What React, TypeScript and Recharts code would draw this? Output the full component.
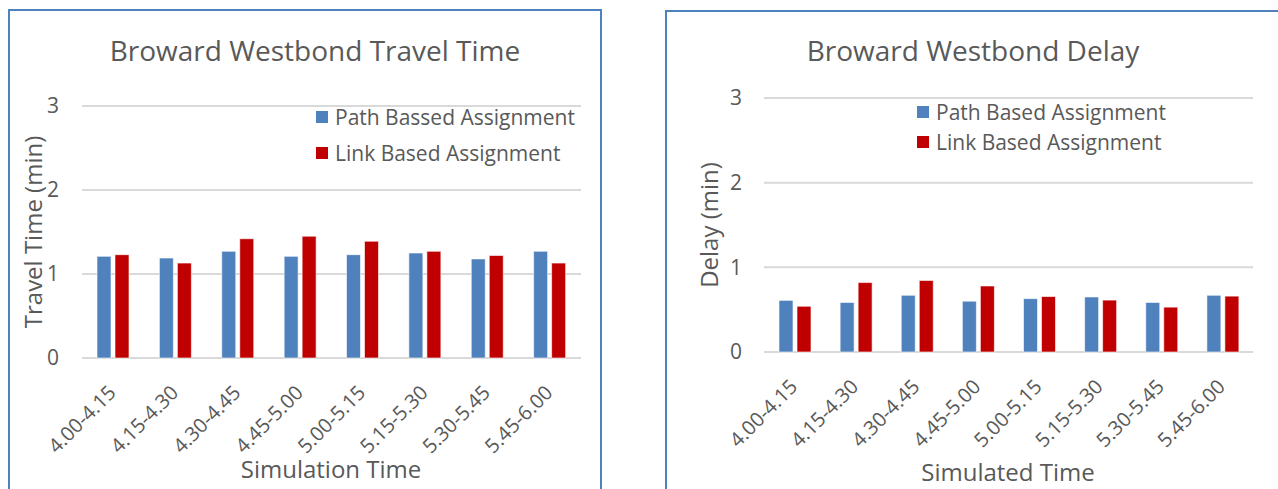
import { BarChart, Bar, XAxis, YAxis, CartesianGrid, Legend, Label } from 'recharts';

const categories = ['4.00-4.15', '4.15-4.30', '4.30-4.45', '4.45-5.00', '5.00-5.15', '5.15-5.30', '5.30-5.45', '5.45-6.00'];
const travelPath = [1.21, 1.19, 1.27, 1.21, 1.23, 1.25, 1.18, 1.27];
const travelLink = [1.23, 1.13, 1.42, 1.45, 1.39, 1.27, 1.22, 1.13];
const delayPath = [0.61, 0.585, 0.67, 0.6, 0.63, 0.65, 0.585, 0.67];
const delayLink = [0.54, 0.82, 0.845, 0.78, 0.655, 0.613, 0.53, 0.66];
const yTicks = [0, 1, 2, 3];
const seriesOrder = ['path', 'link'];

const BLUE = '#4F81BD';
const RED = '#C00000';
const TEXT = '#595959';
const GRID = '#D9D9D9';
const FONT = '"Open Sans", sans-serif';

const travelData = categories.map((c, i) => ({ name: c, path: travelPath[i], link: travelLink[i] }));
const delayData = categories.map((c, i) => ({ name: c, path: delayPath[i], link: delayLink[i] }));

function SlantTick({ x, y, payload }: any) {
  return (
    <g transform={`translate(${x + 4},${y + 36})`}>
      <text textAnchor="end" transform="rotate(-45)" fill={TEXT} fontSize={20} fontFamily={FONT}>
        {payload.value}
      </text>
    </g>
  );
}

const legendContent = (rowH: number) => ({ payload }: any) => {
  const items = [...(payload || [])].sort((a: any, b: any) => seriesOrder.indexOf(a.dataKey) - seriesOrder.indexOf(b.dataKey));
  return (
    <div style={{ fontFamily: FONT, fontSize: 21, color: TEXT }}>
      {items.map((p: any) => (
        <div key={p.value} style={{ display: 'flex', alignItems: 'center', height: rowH, whiteSpace: 'nowrap' }}>
          <span style={{ display: 'inline-block', width: 12, height: 12, background: p.color, marginRight: 7 }} />
          {p.value}
        </div>
      ))}
    </div>
  );
};

const yLabel = (text: string, cx: number) => ({ viewBox }: any) => {
  const cy = viewBox.y + viewBox.height / 2;
  return (
    <text x={cx} y={cy} transform={`rotate(-90 ${cx} ${cy})`} textAnchor="middle" dominantBaseline="central" fill={TEXT} fontSize={24} fontFamily={FONT}>
      {text}
    </text>
  );
};

const xLabel = (text: string, cx: number, baseline: number) => () => (
  <text x={cx} y={baseline} textAnchor="middle" fill={TEXT} fontSize={24} fontFamily={FONT}>
    {text}
  </text>
);

export default function App() {
  return (
    <div style={{ position: 'absolute', left: 0, top: 0, width: 1278, height: 489, overflow: 'hidden', background: '#fff' }}>
      {/* left panel */}
      <div style={{ position: 'absolute', left: 8, top: 9, width: 590, height: 600, border: `2px solid ${BLUE}` }} />
      <div style={{ position: 'absolute', left: 0, top: 31, width: 630, textAlign: 'center', fontFamily: FONT, fontSize: 28, color: TEXT }}>
        Broward Westbond Travel Time
      </div>
      <div style={{ position: 'absolute', left: 0, top: 0 }}>
        <BarChart width={620} height={489} data={travelData} margin={{ top: 106, right: 39, bottom: 0, left: 0 }} barSize={14} barGap={4}>
          <CartesianGrid vertical={false} stroke={GRID} strokeWidth={2} />
          <XAxis dataKey="name" height={131} axisLine={false} tickLine={false} tickSize={0} tickMargin={0} interval={0} tick={<SlantTick />}>
            <Label content={xLabel('Simulation Time', 331, 478)} />
          </XAxis>
          <YAxis width={82} domain={[0, 3]} ticks={yTicks} axisLine={false} tickLine={false} tickSize={0} tickMargin={23} tick={{ fill: TEXT, fontSize: 21, fontFamily: FONT }}>
            <Label content={yLabel('Travel Time (min)', 32)} />
          </YAxis>
          <Legend layout="horizontal" verticalAlign="middle" align="center" wrapperStyle={{ left: 316, top: 99, width: 'auto' }} content={legendContent(36)} />
          <Bar dataKey="path" name="Path Bassed Assignment" fill={BLUE} stroke="#ffffff" strokeWidth={0.6} isAnimationActive={false} />
          <Bar dataKey="link" name="Link Based Assignment" fill={RED} stroke="#ffffff" strokeWidth={0.6} isAnimationActive={false} />
        </BarChart>
      </div>

      {/* right panel */}
      <div style={{ position: 'absolute', left: 665, top: 10, width: 700, height: 600, border: `2px solid ${BLUE}` }} />
      <div style={{ position: 'absolute', left: 673, top: 31, width: 600, textAlign: 'center', fontFamily: FONT, fontSize: 28, color: TEXT }}>
        Broward Westbond Delay
      </div>
      <div style={{ position: 'absolute', left: 650, top: 0 }}>
        <BarChart width={628} height={489} data={delayData} margin={{ top: 98, right: 25, bottom: 0, left: 0 }} barSize={14} barGap={4}>
          <CartesianGrid vertical={false} stroke={GRID} strokeWidth={2} />
          <XAxis dataKey="name" height={137} axisLine={false} tickLine={false} tickSize={0} tickMargin={0} interval={0} tick={<SlantTick />}>
            <Label content={xLabel('Simulated Time', 358, 481)} />
          </XAxis>
          <YAxis width={114} domain={[0, 3]} ticks={yTicks} axisLine={false} tickLine={false} tickSize={0} tickMargin={22} tick={{ fill: TEXT, fontSize: 21, fontFamily: FONT }}>
            <Label content={yLabel('Delay (min)', 58)} />
          </YAxis>
          <Legend layout="horizontal" verticalAlign="middle" align="center" wrapperStyle={{ left: 267, top: 97, width: 'auto' }} content={legendContent(30)} />
          <Bar dataKey="path" name="Path Based Assignment" fill={BLUE} stroke="#ffffff" strokeWidth={0.6} isAnimationActive={false} />
          <Bar dataKey="link" name="Link Based Assignment" fill={RED} stroke="#ffffff" strokeWidth={0.6} isAnimationActive={false} />
        </BarChart>
      </div>
    </div>
  );
}
